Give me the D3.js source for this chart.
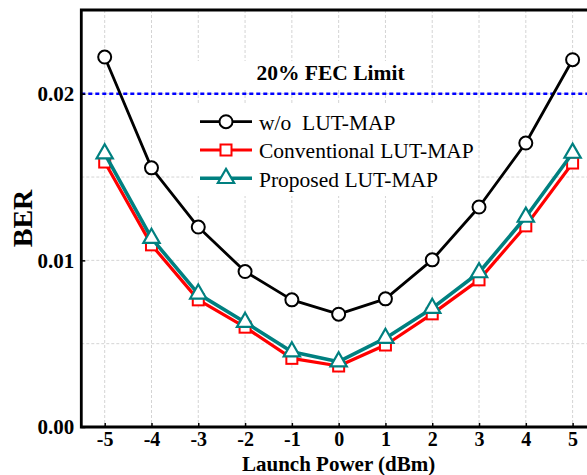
<!DOCTYPE html>
<html>
<head>
<meta charset="utf-8">
<script src="https://cdn.jsdelivr.net/npm/d3@7"></script>
<style>
  html, body { margin: 0; padding: 0; background: #fff; }
  svg { display: block; font-family: 'Liberation Serif', 'Times New Roman', serif; }
</style>
</head>
<body>
<div id="chart"></div>
<script>
// data
const launchPower = [-5, -4, -3, -2, -1, 0, 1, 2, 3, 4, 5];
const berWithout = [0.0222, 0.01555, 0.0120, 0.00933, 0.00763, 0.00677, 0.00769, 0.01003, 0.0132, 0.01704, 0.02204];
const berConventional = [0.0159, 0.01093, 0.00763, 0.00599, 0.00412, 0.00366, 0.00492, 0.00679, 0.00883, 0.01207, 0.01584];
const berProposed = [0.0164, 0.01133, 0.00799, 0.00629, 0.00452, 0.00392, 0.00533, 0.00713, 0.00927, 0.0126, 0.01644];
const yTickValues = [0, 0.01, 0.02];
const yGridValues = [0.005, 0.01, 0.015, 0.02];
const fecLimit = 0.02;
const seriesNames = ['w/o  LUT-MAP', 'Conventional LUT-MAP', 'Proposed LUT-MAP'];

(function () {
  const WIDTH = 587;
  const HEIGHT = 475;
  const LEFT = 81.3;
  const TOP = 10;
  const BOTTOM = 427;
  const RIGHT = 596;

  const series = [
    { name: seriesNames[0], values: berWithout, color: '#000000', width: 2.8, marker: 'circle' },
    { name: seriesNames[1], values: berConventional, color: '#ff0000', width: 3.2, marker: 'square' },
    { name: seriesNames[2], values: berProposed, color: '#008080', width: 3.6, marker: 'triangle' }
  ];

  const svg = d3.select('#chart').append('svg')
    .attr('width', WIDTH)
    .attr('height', HEIGHT);

  const x = d3.scaleLinear().domain([-5.5, 5.5]).range([LEFT, RIGHT]);
  const y = d3.scaleLinear().domain([0, 0.025]).range([BOTTOM, TOP + 0.4]);

  function drawGrid () {
    let grid = svg.append('g')
      .attr('stroke', '#d4d4d4')
      .attr('stroke-width', 1)
      .attr('stroke-dasharray', '3,2');
    grid.selectAll('line.v')
      .data(launchPower)
      .join('line')
      .attr('class', 'v')
      .attr('x1', d => x(d)).attr('x2', d => x(d))
      .attr('y1', TOP).attr('y2', BOTTOM);
    grid.selectAll('line.h')
      .data(yGridValues)
      .join('line')
      .attr('class', 'h')
      .attr('x1', LEFT).attr('x2', RIGHT)
      .attr('y1', d => y(d)).attr('y2', d => y(d));
  }

  function drawFecLimit () {
    // white boxes behind the annotation and the legend hide the grid there
    svg.append('rect')
      .attr('x', 193).attr('y', 61)
      .attr('width', 228).attr('height', 27)
      .attr('fill', '#fff');
    svg.append('line')
      .attr('x1', LEFT).attr('x2', RIGHT)
      .attr('y1', y(fecLimit)).attr('y2', y(fecLimit))
      .attr('stroke', '#0000ff')
      .attr('stroke-width', 2.5)
      .attr('stroke-dasharray', '4,3');
    svg.append('text')
      .attr('x', 330.5).attr('y', 80)
      .attr('text-anchor', 'middle')
      .attr('font-size', 21.5)
      .attr('font-weight', 'bold')
      .text('20% FEC Limit');
  }

  function drawMarker (g, kind, color, cx, cy) {
    if (kind === 'circle') {
      g.append('circle')
        .attr('cx', cx).attr('cy', cy).attr('r', 6.5)
        .attr('fill', '#fff').attr('stroke', color).attr('stroke-width', 2);
    } else if (kind === 'square') {
      g.append('rect')
        .attr('x', cx - 5.5).attr('y', cy - 5.5)
        .attr('width', 11).attr('height', 11)
        .attr('fill', '#fff').attr('stroke', color).attr('stroke-width', 2);
    } else {
      g.append('path')
        .attr('transform', 'translate(' + cx + ',' + cy + ')')
        .attr('d', d3.symbol().type(d3.symbolTriangle).size(115)())
        .attr('fill', '#fff').attr('stroke', color).attr('stroke-width', 2.2);
    }
  }

  function drawSeries () {
    let line = d3.line()
      .x((d, i) => x(launchPower[i]))
      .y(d => y(d));
    series.forEach(function (s) {
      let g = svg.append('g');
      g.append('path')
        .attr('d', line(s.values))
        .attr('fill', 'none')
        .attr('stroke', s.color)
        .attr('stroke-width', s.width)
        .attr('stroke-linejoin', 'round');
      s.values.forEach(function (v, i) {
        drawMarker(g, s.marker, s.color, x(launchPower[i]), y(v));
      });
    });
  }

  function drawLegend () {
    svg.append('rect')
      .attr('x', 193).attr('y', 104)
      .attr('width', 285).attr('height', 92)
      .attr('fill', '#fff');
    series.forEach(function (s, i) {
      let rowY = 121.7 + i * 28.3;
      let g = svg.append('g');
      g.append('line')
        .attr('x1', 200).attr('x2', 252)
        .attr('y1', rowY).attr('y2', rowY)
        .attr('stroke', s.color)
        .attr('stroke-width', s.width);
      drawMarker(g, s.marker, s.color, 226, rowY);
      g.append('text')
        .attr('x', 259).attr('y', rowY + 8.3)
        .attr('font-size', 21.5)
        .style('white-space', 'pre')
        .text(s.name);
    });
  }

  function drawAxes () {
    let xAxis = d3.axisBottom(x)
      .tickValues(launchPower)
      .tickSize(-4)
      .tickPadding(5)
      .tickFormat(d3.format('d'));
    let gx = svg.append('g')
      .attr('transform', 'translate(0,' + BOTTOM + ')')
      .call(xAxis);
    gx.select('.domain').remove();
    gx.selectAll('.tick line').attr('stroke', '#000').attr('stroke-width', 1.5);
    gx.selectAll('.tick text')
      .attr('font-family', 'Liberation Serif, serif')
      .attr('font-size', 20)
      .attr('font-weight', 'bold')
      .attr('fill', '#000')
      .text(d => d < 0 ? '-' + Math.abs(d) : d);

    let yAxis = d3.axisLeft(y)
      .tickValues(yTickValues)
      .tickSize(-4)
      .tickPadding(7)
      .tickFormat(d3.format('.2f'));
    let gy = svg.append('g')
      .attr('transform', 'translate(' + LEFT + ',0)')
      .call(yAxis);
    gy.select('.domain').remove();
    gy.selectAll('.tick line').attr('stroke', '#000').attr('stroke-width', 1.5);
    gy.selectAll('.tick text')
      .attr('font-family', 'Liberation Serif, serif')
      .attr('font-size', 21)
      .attr('font-weight', 'bold')
      .attr('fill', '#000');

    // frame: left, top and bottom (the right side falls outside the picture)
    svg.append('path')
      .attr('d', 'M' + RIGHT + ',' + TOP + 'H' + LEFT + 'V' + BOTTOM + 'H' + RIGHT)
      .attr('fill', 'none')
      .attr('stroke', '#000')
      .attr('stroke-width', 2.8);

    svg.append('text')
      .attr('transform', 'translate(32,' + ((TOP + BOTTOM) / 2) + ') rotate(-90)')
      .attr('text-anchor', 'middle')
      .attr('font-size', 28)
      .attr('font-weight', 'bold')
      .text('BER');

    svg.append('text')
      .attr('x', x(0)).attr('y', 471)
      .attr('text-anchor', 'middle')
      .attr('font-size', 21)
      .attr('font-weight', 'bold')
      .text('Launch Power (dBm)');
  }

  drawGrid();
  drawFecLimit();
  drawLegend();
  drawSeries();
  drawAxes();
}());
</script>
</body>
</html>
